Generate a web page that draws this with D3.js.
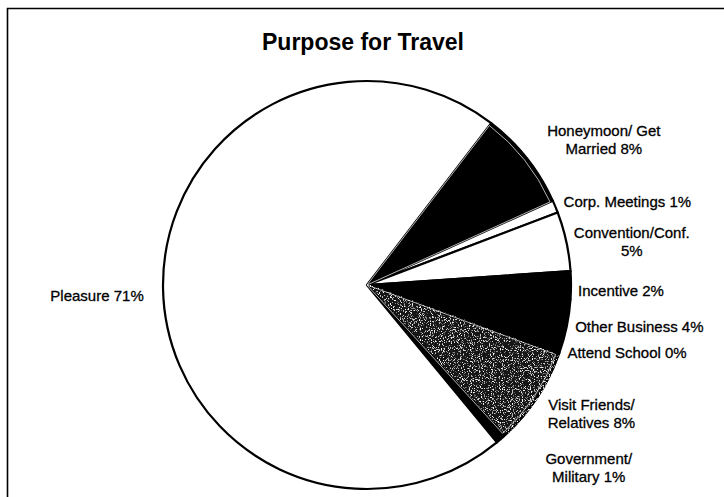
<!DOCTYPE html>
<html>
<head>
<meta charset="utf-8">
<script src="https://cdn.jsdelivr.net/npm/d3@7"></script>
<style>
  html, body { margin: 0; padding: 0; background: #fff; }
  svg { display: block; }
  text { font-family: "Liberation Sans", Arial, sans-serif; fill: #000; }
</style>
</head>
<body>
<svg id="chart" width="724" height="497"></svg>
<script>
// Purpose for travel, share of respondents (%)
const categories = [
  "Honeymoon/ Get\nMarried",
  "Corp. Meetings",
  "Convention/Conf.\n",
  "Incentive",
  "Other Business",
  "Attend School",
  "Visit Friends/\nRelatives",
  "Government/\nMilitary",
  "Pleasure"
];
const values = [7.8, 1.0, 4.7, 2.2, 4.3, 0.2, 7.6, 0.8, 71.4];
const fills = ["solid", "white", "white", "solid", "solid", "solid", "speckle", "solid", "white"];
// slices drawn with a thin light inner edge
const edged = [true, false, false, false, false, false, true, false, false];

// label offsets from the default outside position (px)
const labelNudge = [
  [27, 22], [13, 20], [3, 14], [-14, 6], [10, -13], [8, -23], [2, -20], [46, -19], [-2, 6]
];

const W = 724, H = 497;
const cx = 367, cy = 285, r = 204;
const startDeg = 37.5;

const svg = d3.select("#chart");

// speckled fill for the textured slice
const defs = svg.append("defs");
const f = defs.append("filter").attr("id", "speckle")
  .attr("x", 0).attr("y", 0).attr("width", 1).attr("height", 1)
  .attr("filterUnits", "objectBoundingBox");
f.append("feTurbulence").attr("type", "fractalNoise")
  .attr("baseFrequency", 0.9).attr("numOctaves", 2).attr("seed", 4).attr("result", "noise");
f.append("feColorMatrix").attr("in", "noise").attr("type", "matrix")
  .attr("values", "0 0 0 0 1  0 0 0 0 1  0 0 0 0 1  5.5 0 0 0 -3.1")
  .attr("result", "dots");
f.append("feComposite").attr("in", "dots").attr("in2", "SourceGraphic")
  .attr("operator", "in").attr("result", "clipped");
f.append("feMerge").selectAll("feMergeNode")
  .data(["SourceGraphic", "clipped"]).join("feMergeNode").attr("in", d => d);

// frame
svg.append("path")
  .attr("d", `M7.5,${H + 2} V8.5 H${W + 2}`)
  .attr("fill", "none").attr("stroke", "#000").attr("stroke-width", 1.6);

// title
svg.append("text")
  .attr("x", 363).attr("y", 50)
  .attr("text-anchor", "middle")
  .attr("font-size", 23).attr("font-weight", "bold")
  .text("Purpose for Travel");

const data = categories.map((c, i) => ({ name: c, value: values[i], fill: fills[i], edged: edged[i], i }));

const pie = d3.pie()
  .sort(null)
  .value(d => d.value)
  .startAngle(startDeg * Math.PI / 180)
  .endAngle(startDeg * Math.PI / 180 + 2 * Math.PI);

const arcs = pie(data);
const arc = d3.arc().innerRadius(0).outerRadius(r);
const labelArc = d3.arc().innerRadius(268).outerRadius(268);

const g = svg.append("g").attr("transform", `translate(${cx},${cy})`);

const fillColor = d => d.data.fill === "white" ? "#fff" : (d.data.fill === "speckle" ? "#161616" : "#000");

g.selectAll("path.slice")
  .data(arcs)
  .join("path")
  .attr("class", "slice")
  .attr("d", arc)
  .attr("fill", fillColor)
  .attr("filter", d => d.data.fill === "speckle" ? "url(#speckle)" : null)
  .attr("stroke", "#000")
  .attr("stroke-width", 2.2)
  .attr("stroke-linejoin", "round");

// thin light edge lines inside the edged dark slices
g.selectAll("path.sep")
  .data(arcs.filter(d => d.data.edged))
  .join("path")
  .attr("class", "sep")
  .attr("d", d3.arc().innerRadius(0).outerRadius(r - 3))
  .attr("fill", "none")
  .attr("stroke", "#e0e0e0")
  .attr("stroke-width", 0.8);

// labels
const fmt = v => Math.round(v) + "%";
const lineH = 18;
const labels = svg.append("g").attr("font-size", 15)
  .attr("stroke", "#000").attr("stroke-width", 0.3);
arcs.forEach((d, i) => {
  const [lx, ly] = labelArc.centroid(d);
  const x = cx + lx + labelNudge[i][0];
  const y = cy + ly + labelNudge[i][1];
  const lines = (d.data.name + " " + fmt(d.data.value)).split("\n").map(s => s.trim());
  const t = labels.append("text")
    .attr("text-anchor", "middle")
    .attr("x", x);
  lines.forEach((s, k) => {
    t.append("tspan")
      .attr("x", x)
      .attr("y", y + 5 + (k - (lines.length - 1) / 2) * lineH)
      .text(s);
  });
});
</script>
</body>
</html>
